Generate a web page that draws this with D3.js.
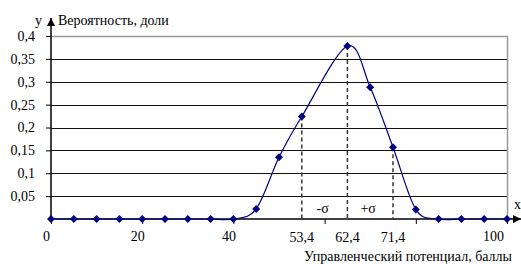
<!DOCTYPE html>
<html>
<head>
<meta charset="utf-8">
<script src="https://cdn.jsdelivr.net/npm/d3@7"></script>
<style>
  body { margin: 0; background: #fff; }
</style>
</head>
<body>
<div id="chart"></div>
<script>
// data
const xValues = [0, 5, 10, 15, 20, 25, 30, 35, 40, 45, 50, 55, 65, 70, 75, 80, 85, 90, 95, 100];
const probValues = [0, 0, 0, 0, 0, 0, 0, 0, 0, 0.022, 0.135, 0.224, 0.378, 0.288, 0.157, 0.021, 0, 0, 0, 0];
const yTicks = [0.05, 0.1, 0.15, 0.2, 0.25, 0.3, 0.35, 0.4];
const xTicks = [0, 20, 40, 60, 80, 100];
const xTickLabels = ['0', '20', '40', '', '', '100'];
// dashed sigma markers: at data points, with their own labels
const sigmaAt = [55, 65, 75];
const sigmaLabels = ['53,4', '62,4', '71,4'];
const sigmaText = ['-σ', '+σ'];

const width = 521, height = 264;
const margin = { top: 36, right: 14, bottom: 45, left: 51 };
const fontSize = '14px';
const fontFamily = '"Liberation Serif"';

const svg = d3.select('#chart').append('svg')
  .attr('width', width)
  .attr('height', height)
  .attr('font-family', 'Liberation Serif');

const x = d3.scaleLinear().domain([0, 100]).range([margin.left, width - margin.right]);
const y = d3.scaleLinear().domain([0, 0.4]).range([height - margin.bottom, margin.top]);

const defs = svg.append('defs');
defs.append('marker')
  .attr('id', 'arrow')
  .attr('viewBox', '0 0 10 10')
  .attr('refX', 10).attr('refY', 5)
  .attr('markerWidth', 10).attr('markerHeight', 8)
  .attr('markerUnits', 'userSpaceOnUse')
  .attr('orient', 'auto')
  .append('path')
  .attr('d', 'M0,0L10,5L0,10Z')
  .attr('fill', '#000');

const label = (sel) => sel
  .style('font-family', fontFamily)
  .style('font-size', fontSize)
  .attr('fill', '#000');

// gridlines
svg.append('g')
  .selectAll('line')
  .data(yTicks.filter(d => d < 0.4))
  .enter().append('line')
  .attr('x1', x(0)).attr('x2', x(100))
  .attr('y1', d => Math.round(y(d)) + 0.5)
  .attr('y2', d => Math.round(y(d)) + 0.5)
  .attr('stroke', '#111')
  .attr('stroke-width', 1);

// plot area border (top + right)
svg.append('path')
  .attr('d', `M${x(0)},${Math.round(y(0.4)) + 0.5}H${Math.round(x(100)) + 0.5}V${y(0)}`)
  .attr('fill', 'none')
  .attr('stroke', '#999')
  .attr('stroke-width', 1.5);

// y axis
const yAxis = svg.append('g')
  .attr('transform', `translate(${x(0)},0)`)
  .call(d3.axisLeft(y).tickValues(yTicks).tickSize(5)
    .tickFormat(d => String(d).replace('.', ',')));
yAxis.attr('font-family', null).attr('font-size', null);
yAxis.select('.domain').remove();
yAxis.selectAll('.tick line').attr('stroke', '#000');
yAxis.selectAll('.tick text')
  .attr('x', -16)
  .call(label);

svg.append('line')
  .attr('x1', x(0)).attr('x2', x(0))
  .attr('y1', y(0)).attr('y2', 18)
  .attr('stroke', '#000')
  .attr('stroke-width', 1.5)
  .attr('marker-end', 'url(#arrow)');

// x axis
const xAxis = svg.append('g')
  .attr('transform', `translate(0,${y(0)})`)
  .call(d3.axisBottom(x).tickValues(xTicks).tickSize(5)
    .tickFormat((d, i) => xTickLabels[i]));
xAxis.attr('font-family', null).attr('font-size', null);
xAxis.select('.domain').remove();
xAxis.selectAll('.tick line').attr('stroke', '#000');
xAxis.selectAll('.tick text')
  .attr('dx', -5)
  .attr('y', 12)
  .call(label);
xAxis.selectAll('.tick').filter(d => d === 100).select('text').attr('dx', -14);

svg.append('line')
  .attr('x1', x(0)).attr('x2', width)
  .attr('y1', y(0)).attr('y2', y(0))
  .attr('stroke', '#000')
  .attr('stroke-width', 1.5)
  .attr('marker-end', 'url(#arrow)');

// dashed sigma lines
const pts = xValues.map((v, i) => ({ x: v, y: probValues[i] }));
sigmaAt.forEach((s, i) => {
  const p = pts.find(d => d.x === s);
  svg.append('line')
    .attr('x1', x(s)).attr('x2', x(s))
    .attr('y1', y(p.y)).attr('y2', y(0))
    .attr('stroke', '#333')
    .attr('stroke-width', 1.5)
    .attr('stroke-dasharray', '4,3');
  svg.append('text')
    .attr('x', x(s)).attr('y', y(0) + 23)
    .attr('text-anchor', 'middle')
    .call(label)
    .text(sigmaLabels[i]);
});
sigmaText.forEach((t, i) => {
  svg.append('text')
    .attr('x', (x(sigmaAt[i]) + x(sigmaAt[i + 1])) / 2 - 2)
    .attr('y', y(0) - 6)
    .attr('text-anchor', 'middle')
    .call(label)
    .text(t);
});

// smoothed line
const line = d3.line()
  .x(d => x(d.x))
  .y(d => y(d.y))
  .curve(d3.curveCardinal.tension(0));

svg.append('path')
  .datum(pts)
  .attr('d', line)
  .attr('fill', 'none')
  .attr('stroke', '#000080')
  .attr('stroke-width', 1.2);

svg.append('g')
  .selectAll('path')
  .data(pts)
  .enter().append('path')
  .attr('transform', d => `translate(${x(d.x)},${y(d.y)})`)
  .attr('d', 'M0,-4L4,0L0,4L-4,0Z')
  .attr('fill', '#000080');

// axis titles
svg.append('text')
  .attr('x', 35).attr('y', 25)
  .call(label)
  .text('y');
svg.append('text')
  .attr('x', 58).attr('y', 25)
  .call(label)
  .text('Вероятность, доли');
svg.append('text')
  .attr('x', 514).attr('y', 209)
  .call(label)
  .text('x');
svg.append('text')
  .attr('x', 512).attr('y', 261)
  .attr('text-anchor', 'end')
  .call(label)
  .text('Управленческий потенциал, баллы');
</script>
</body>
</html>
